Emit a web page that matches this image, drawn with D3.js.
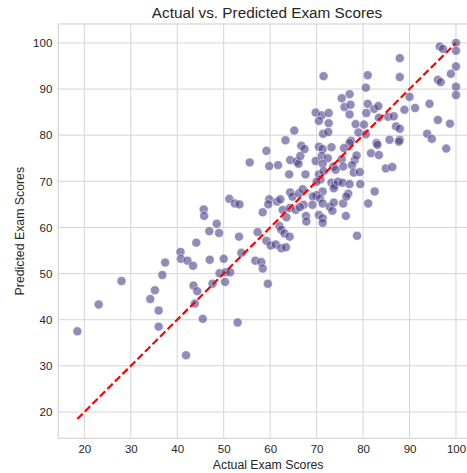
<!DOCTYPE html>
<html>
<head>
<meta charset="utf-8">
<script src="https://cdn.jsdelivr.net/npm/d3@7"></script>
<style>
  html, body { margin: 0; padding: 0; background: #ffffff; }
  svg { display: block; font-family: "Liberation Sans", Arial, sans-serif; }
</style>
</head>
<body>
<svg id="chart" width="467" height="473"></svg>
<script>
// ---- data ----
const actualScores = [
  18.5, 23.1, 28.0, 37.4, 36.8, 35.2, 34.2, 36.0, 36.0, 40.7, 40.8, 42.2, 43.4, 44.1, 43.5, 44.3, 43.8, 41.9, 45.5,
  45.7, 45.8, 46.9, 47.0, 47.6, 48.5, 49.0, 49.1, 50.4, 51.4, 50.3, 50.0, 51.2, 52.4, 53.4, 53.3, 53.8, 53.0, 55.6,
  56.8, 58.1, 58.4, 57.3, 58.4, 59.2, 59.8, 61.7, 63.3, 65.2, 59.5, 59.2, 60.1, 61.2, 62.4, 63.4, 62.0, 62.4, 63.1,
  64.2, 63.5, 59.8, 59.6, 61.5, 62.2, 64.1, 64.3, 65.7, 66.1, 66.5, 64.3, 64.8, 62.7, 64.2, 65.5, 66.7, 67.4, 70.5,
  71.3, 73.2, 69.8, 71.1, 72.4, 71.3, 75.4, 73.6, 75.7, 74.1, 78.2, 78.6, 77.6, 81.7, 83.4, 84.9, 86.3, 78.0, 79.3,
  67.6, 70.5, 71.5, 70.8, 70.0, 73.2, 73.9, 73.7, 74.6, 75.6, 77.1, 79.4, 82.5, 81.1, 66.2, 67.0, 71.3, 70.0, 69.2,
  70.7, 71.3, 67.2, 66.4, 69.1, 72.8, 73.4, 73.7, 75.7, 76.8, 76.4, 76.3, 70.5, 71.3, 71.3, 67.7, 67.8, 78.7, 71.5,
  69.8, 71.1, 72.6, 70.5, 72.6, 71.4, 72.5, 96.5, 97.2, 100.0, 100.0, 87.9, 81.0, 87.9, 100.0, 98.9, 96.1, 96.7,
  100.0, 100.0, 80.6, 77.1, 75.4, 90.0, 76.0, 77.3, 77.1, 81.0, 80.7, 82.4, 83.3, 88.9, 91.2, 94.3, 85.4, 86.6, 83.4,
  78.4, 80.2, 96.1, 98.7, 87.1, 87.9, 79.0, 80.6, 93.8, 94.8, 85.7, 87.9, 87.7, 77.4, 77.1, 82.9, 83.1, 97.9, 75.9
];
const predictedScores = [
  37.5, 43.3, 48.4, 52.4, 49.7, 46.4, 44.5, 42.0, 38.5, 54.7, 53.2, 52.8, 51.7, 56.7, 47.4, 46.2, 43.5, 32.3, 40.2,
  63.9, 62.5, 59.2, 53.0, 47.8, 60.8, 58.8, 50.1, 50.3, 50.3, 48.2, 53.2, 66.2, 65.2, 65.0, 58.0, 54.5, 39.4, 74.1,
  52.8, 52.5, 51.1, 59.0, 63.3, 76.6, 73.3, 73.5, 78.9, 81.0, 47.8, 57.1, 56.1, 56.3, 55.5, 55.7, 60.3, 59.5, 58.7,
  58.0, 62.2, 66.1, 65.0, 65.6, 66.1, 71.5, 74.6, 74.3, 73.8, 75.5, 67.6, 66.7, 63.8, 64.2, 63.8, 77.7, 77.0, 77.5,
  77.0, 77.4, 74.4, 75.5, 75.0, 73.8, 74.8, 73.2, 73.2, 72.5, 74.6, 75.6, 73.5, 76.1, 75.7, 72.8, 73.1, 71.9, 72.0,
  71.5, 71.5, 72.2, 70.4, 69.9, 69.7, 69.2, 68.5, 69.9, 69.7, 69.4, 69.4, 67.8, 65.2, 67.4, 68.3, 67.8, 67.0, 66.7,
  66.3, 65.2, 64.9, 64.4, 64.9, 64.5, 63.6, 65.4, 65.2, 67.3, 66.7, 62.5, 62.7, 62.0, 61.0, 62.5, 61.3, 58.2, 92.8,
  84.9, 84.3, 84.8, 83.1, 82.6, 80.3, 80.7, 99.2, 98.7, 100.0, 98.3, 96.7, 93.0, 92.6, 94.9, 93.3, 92.0, 91.5,
  90.5, 88.7, 90.3, 88.9, 88.0, 88.3, 86.1, 86.6, 84.5, 86.8, 84.8, 85.7, 86.3, 85.5, 85.9, 86.8, 84.0, 84.1, 83.8,
  82.4, 82.3, 83.3, 82.5, 81.9, 81.4, 80.6, 80.2, 80.3, 79.2, 79.0, 79.0, 78.6, 78.8, 78.3, 78.3, 77.9, 77.1, 77.2
];
const xTicks = [20, 30, 40, 50, 60, 70, 80, 90, 100];
const yTicks = [20, 30, 40, 50, 60, 70, 80, 90, 100];
const titleText = "Actual vs. Predicted Exam Scores";
const xLabelText = "Actual Exam Scores";
const yLabelText = "Predicted Exam Scores";

// ---- layout ----
const svg = d3.select("#chart");
const plot = { left: 58.3, right: 482, top: 24, bottom: 438.3 };
const x = d3.scaleLinear().domain([14.4, 105.6]).range([plot.left, plot.right]);
const y = d3.scaleLinear().domain([14.3, 104.1]).range([plot.bottom, plot.top]);
const gridColor = "#d5d5d5";
const textColor = "#262626";

const points = actualScores.map((a, i) => ({ a, p: predictedScores[i] }));

// grid
const g = svg.append("g");
g.selectAll("line.gx").data(xTicks).join("line")
  .attr("x1", d => x(d)).attr("x2", d => x(d))
  .attr("y1", plot.top).attr("y2", plot.bottom)
  .attr("stroke", gridColor).attr("stroke-width", 1);
g.selectAll("line.gy").data(yTicks).join("line")
  .attr("x1", plot.left).attr("x2", plot.right)
  .attr("y1", d => y(d)).attr("y2", d => y(d))
  .attr("stroke", gridColor).attr("stroke-width", 1);

// frame
svg.append("rect")
  .attr("x", plot.left).attr("y", plot.top)
  .attr("width", plot.right - plot.left).attr("height", plot.bottom - plot.top)
  .attr("fill", "none").attr("stroke", gridColor).attr("stroke-width", 1.2);

// axes (tick labels only)
const xAxis = d3.axisBottom(x).tickValues(xTicks).tickSize(0).tickPadding(7);
const yAxis = d3.axisLeft(y).tickValues(yTicks).tickSize(0).tickPadding(6);
const gx = svg.append("g").attr("transform", `translate(0,${plot.bottom})`).call(xAxis);
const gy = svg.append("g").attr("transform", `translate(${plot.left},0)`).call(yAxis);
[gx, gy].forEach(ax => {
  ax.select(".domain").remove();
  ax.selectAll("text").attr("font-size", 11.5).attr("fill", textColor)
    .attr("font-family", "'Liberation Sans', Arial, sans-serif");
});

// scatter
svg.append("g").selectAll("circle").data(points).join("circle")
  .attr("cx", d => x(d.a)).attr("cy", d => y(d.p)).attr("r", 4.5)
  .attr("fill", "#4a3f88").attr("fill-opacity", 0.6)
  .attr("stroke", "#ffffff").attr("stroke-width", 0.6).attr("stroke-opacity", 0.8);

// identity line
const ext = d3.extent(actualScores);
svg.append("line")
  .attr("x1", x(ext[0])).attr("y1", y(ext[0]))
  .attr("x2", x(ext[1])).attr("y2", y(ext[1]))
  .attr("stroke", "#ff0000").attr("stroke-width", 2.2)
  .attr("stroke-dasharray", "7.4,3.2");

// title and labels
svg.append("text").attr("x", 267).attr("y", 18.3)
  .attr("text-anchor", "middle").attr("font-size", 15.3).attr("fill", textColor)
  .text(titleText);
svg.append("text").attr("x", (plot.left + plot.right) / 2 - 2).attr("y", 469)
  .attr("text-anchor", "middle").attr("font-size", 12.3).attr("fill", textColor)
  .text(xLabelText);
svg.append("text")
  .attr("transform", `translate(24,${(plot.top + plot.bottom) / 2}) rotate(-90)`)
  .attr("text-anchor", "middle").attr("font-size", 12.3).attr("fill", textColor)
  .text(yLabelText);
</script>
</body>
</html>
